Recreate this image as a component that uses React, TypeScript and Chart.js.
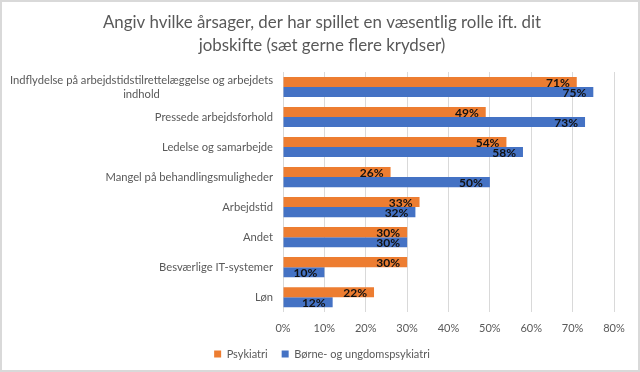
import React, { useEffect, useRef } from "react";
import { Chart, registerables } from "chart.js";

Chart.register(...registerables);

const FONT = "Lato, 'Open Sans', sans-serif";

const titleLines = [
  "Angiv hvilke årsager, der har spillet en væsentlig rolle ift. dit",
  "jobskifte (sæt gerne flere krydser)",
];
const categories: (string | string[])[] = [
  ["Indflydelse på arbejdstidstilrettelæggelse og arbejdets", "indhold"],
  "Pressede arbejdsforhold",
  "Ledelse og samarbejde",
  "Mangel på behandlingsmuligheder",
  "Arbejdstid",
  "Andet",
  "Besværlige IT-systemer",
  "Løn",
];
const seriesNames = ["Psykiatri", "Børne- og ungdomspsykiatri"];
const psykiatri = [71, 49, 54, 26, 33, 30, 30, 22];
const boerneUngdom = [75, 73, 58, 50, 32, 30, 10, 12];
const xMin = 0;
const xMax = 80;
const xStep = 10;

const bgBorder = {
  id: "bgBorder",
  beforeDraw(chart: any) {
    const { ctx, width, height } = chart;
    ctx.save();
    ctx.fillStyle = "#ffffff";
    ctx.fillRect(0, 0, width, height);
    ctx.strokeStyle = "#d9d9d9";
    ctx.lineWidth = 2;
    ctx.strokeRect(1, 1, width - 2, height - 2);
    ctx.restore();
  },
};

const catLabels = {
  id: "catLabels",
  afterDraw(chart: any) {
    const y = chart.scales.y;
    const ctx = chart.ctx;
    ctx.save();
    ctx.font = `11.2px ${FONT}`;
    ctx.fillStyle = "#595959";
    ctx.textBaseline = "middle";
    ctx.textAlign = "center";
    const right = y.right - 10;
    const lh = 14;
    categories.forEach((c, i) => {
      const lines = Array.isArray(c) ? c : [c];
      const w = Math.max(...lines.map((l) => ctx.measureText(l).width));
      const cy = y.getPixelForValue(i);
      lines.forEach((l, j) => {
        ctx.fillText(l, right - w / 2, cy + (j - (lines.length - 1) / 2) * lh);
      });
    });
    ctx.restore();
  },
};

const dataLabels = {
  id: "dataLabels",
  afterDatasetsDraw(chart: any) {
    const ctx = chart.ctx;
    ctx.save();
    ctx.font = `bold 12px ${FONT}`;
    ctx.fillStyle = "#111111";
    ctx.textAlign = "right";
    ctx.textBaseline = "middle";
    chart.data.datasets.forEach((ds: any, di: number) => {
      const meta = chart.getDatasetMeta(di);
      meta.data.forEach((el: any, i: number) => {
        ctx.fillText(`${ds.data[i]}%`, el.x - 7, el.y + 1);
      });
    });
    ctx.restore();
  },
};

export default function App() {
  const ref = useRef<HTMLCanvasElement | null>(null);
  useEffect(() => {
    document.body.style.margin = "0";
    const chart = new Chart(ref.current as HTMLCanvasElement, {
      type: "bar",
      data: {
        labels: categories.map((c) => (Array.isArray(c) ? c.join(" ") : c)),
        datasets: [
          {
            label: seriesNames[0],
            data: psykiatri,
            backgroundColor: "#ED7D31",
            borderWidth: 0,
            barPercentage: 1,
            categoryPercentage: 0.67,
          },
          {
            label: seriesNames[1],
            data: boerneUngdom,
            backgroundColor: "#4472C4",
            borderWidth: 0,
            barPercentage: 1,
            categoryPercentage: 0.67,
          },
        ],
      },
      options: {
        indexAxis: "y",
        responsive: false,
        animation: false,
        layout: { padding: { left: 30, right: 26, top: 0, bottom: 2.4 } },
        plugins: {
          title: {
            display: true,
            text: titleLines,
            color: "#595959",
            font: { family: FONT, size: 16.9, weight: "normal", lineHeight: 23.5 / 16.9 },
            padding: { top: 10.5, bottom: 14.5 },
          },
          legend: {
            position: "bottom",
            labels: {
              boxWidth: 7,
              boxHeight: 7,
              color: "#595959",
              font: { family: FONT, size: 11 },
              padding: 14,
            },
          },
          tooltip: { enabled: false },
        },
        scales: {
          x: {
            min: xMin,
            max: xMax,
            ticks: {
              stepSize: xStep,
              callback: (v: any) => `${v}%`,
              color: "#595959",
              font: { family: FONT, size: 11 },
              padding: 10,
            },
            grid: { color: "#d9d9d9", drawTicks: false },
            border: { display: false },
            afterFit: (s: any) => {
              s.height = 22.4;
            },
          },
          y: {
            ticks: { display: false },
            grid: { display: false },
            border: { display: false },
            afterFit: (s: any) => {
              s.width = 253;
            },
          },
        },
      },
      plugins: [bgBorder, catLabels, dataLabels],
    } as any);
    return () => chart.destroy();
  }, []);
  return (
    <div style={{ width: 640, height: 372 }}>
      <canvas ref={ref} width={640} height={372} />
    </div>
  );
}
